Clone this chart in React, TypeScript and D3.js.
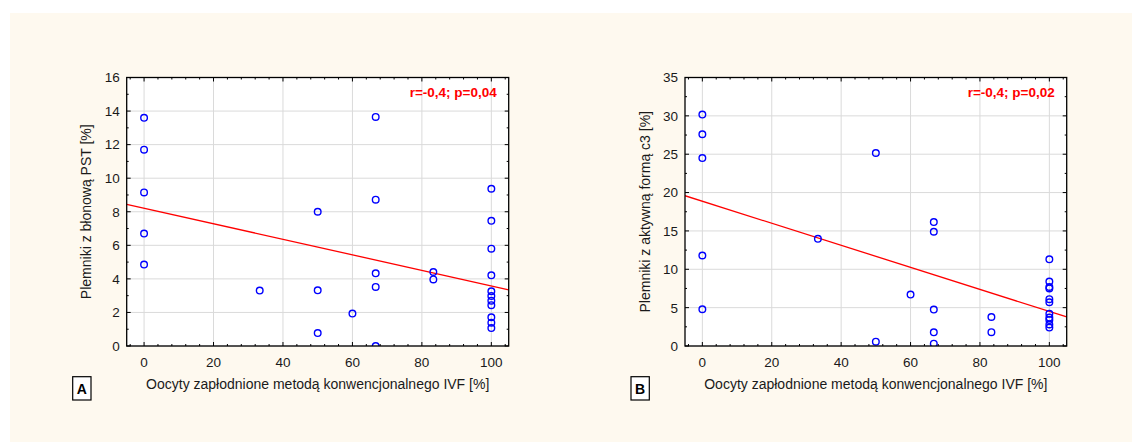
import React from "react";
import * as d3 from "d3";

// ---------- Data ----------
const xLabel = "Oocyty zapłodnione metodą konwencjonalnego IVF [%]";
const xTicks = [0, 20, 40, 60, 80, 100];

// Panel A
const aTitleY = "Plemniki z błonową PST [%]";
const aStat = "r=-0,4; p=0,04";
const aX = [0, 0, 0, 0, 0, 33.3, 50, 50, 50, 60, 66.7, 66.7, 66.7, 66.7, 66.7, 83.3, 83.3,
  100, 100, 100, 100, 100, 100, 100, 100, 100, 100, 100];
const aY = [13.6, 11.7, 9.15, 6.7, 4.85, 3.3, 8.0, 3.32, 0.77, 1.93, 13.65, 8.72, 4.33, 3.52, 0.0, 4.41, 3.97,
  9.37, 7.46, 5.8, 4.21, 3.26, 2.98, 2.7, 2.43, 1.71, 1.39, 1.07];
const aYTicks = [0, 2, 4, 6, 8, 10, 12, 14, 16];
const aFit = [8.21, -0.0463]; // intercept, slope

// Panel B
const bTitleY = "Plemniki z aktywną formą c3 [%]";
const bStat = "r=-0,4; p=0,02";
const bX = [0, 0, 0, 0, 0, 33.3, 50, 50, 60, 66.7, 66.7, 66.7, 66.7, 66.7, 83.3, 83.3,
  100, 100, 100, 100, 100, 100, 100, 100, 100, 100, 100];
const bY = [30.17, 27.6, 24.5, 11.8, 4.79, 13.97, 25.16, 0.57, 6.7, 16.15, 14.89, 4.75, 1.78, 0.3, 3.78, 1.8,
  11.3, 8.4, 7.7, 7.5, 6.1, 5.7, 4.2, 3.7, 3.4, 2.8, 2.4];
const bYTicks = [0, 5, 10, 15, 20, 25, 30, 35];
const bFit = [18.87, -0.1436];

const FONT = "'Liberation Sans', Arial, sans-serif";

type PanelProps = {
  left: number; right: number; top: number; bottom: number;
  xs: number[]; ys: number[]; yTicks: number[]; yMinorStep: number;
  fit: number[]; yTitle: string; stat: string; letter: string;
};

function Panel(p: PanelProps) {
  const x = d3.scaleLinear().domain([-5, 105]).range([p.left, p.right]);
  const yMax = p.yTicks[p.yTicks.length - 1];
  const y = d3.scaleLinear().domain([0, yMax]).range([p.bottom, p.top]);
  const xMinor = d3.range(-4, 105, 4).filter((v) => v % 20 !== 0);
  const yMinor = d3.range(0, yMax + 0.001, p.yMinorStep).filter((v) => !p.yTicks.includes(v));
  const clipId = "clip" + p.letter;
  const line = d3.line<number>().x((v) => x(v)).y((v) => y(p.fit[0] + p.fit[1] * v));
  const cx = (p.left + p.right) / 2;
  const cy = (p.top + p.bottom) / 2;
  return (
    <g fontFamily={FONT}>
      <defs>
        <clipPath id={clipId}>
          <rect x={p.left} y={p.top} width={p.right - p.left} height={p.bottom - p.top} />
        </clipPath>
      </defs>
      <rect x={p.left} y={p.top} width={p.right - p.left} height={p.bottom - p.top} fill="#ffffff" />
      {xTicks.map((t) => (
        <line key={"gx" + t} x1={x(t)} x2={x(t)} y1={p.top} y2={p.bottom} stroke="#dadada" strokeWidth={1} />
      ))}
      {p.yTicks.map((t) => (
        <line key={"gy" + t} x1={p.left} x2={p.right} y1={y(t)} y2={y(t)} stroke="#dadada" strokeWidth={1} />
      ))}
      <g clipPath={`url(#${clipId})`}>
        <path d={line([-5, 105]) || ""} stroke="#ff0000" strokeWidth={1.3} fill="none" />
        {p.xs.map((v, i) => (
          <circle key={i} cx={x(v)} cy={y(p.ys[i])} r={3.3} fill="none" stroke="#0000ff" strokeWidth={1.4} />
        ))}
      </g>
      {/* ticks */}
      {xTicks.map((t) => (
        <g key={"tx" + t}>
          <line x1={x(t)} x2={x(t)} y1={p.bottom} y2={p.bottom - 4} stroke="#000" />
          <line x1={x(t)} x2={x(t)} y1={p.top} y2={p.top + 4} stroke="#000" />
        </g>
      ))}
      {xMinor.map((t) => (
        <g key={"mx" + t}>
          <line x1={x(t)} x2={x(t)} y1={p.bottom} y2={p.bottom - 2} stroke="#000" />
          <line x1={x(t)} x2={x(t)} y1={p.top} y2={p.top + 2} stroke="#000" />
        </g>
      ))}
      {p.yTicks.map((t) => (
        <g key={"ty" + t}>
          <line x1={p.left} x2={p.left + 4} y1={y(t)} y2={y(t)} stroke="#000" />
          <line x1={p.right} x2={p.right - 4} y1={y(t)} y2={y(t)} stroke="#000" />
        </g>
      ))}
      {yMinor.map((t) => (
        <g key={"my" + t}>
          <line x1={p.left} x2={p.left + 2} y1={y(t)} y2={y(t)} stroke="#000" />
          <line x1={p.right} x2={p.right - 2} y1={y(t)} y2={y(t)} stroke="#000" />
        </g>
      ))}
      <rect x={p.left} y={p.top} width={p.right - p.left} height={p.bottom - p.top} fill="none" stroke="#000" strokeWidth={1.3} />
      {/* tick labels */}
      {xTicks.map((t) => (
        <text key={"lx" + t} x={x(t)} y={p.bottom + 20.5} fontSize={13.5} textAnchor="middle" fill="#1a1a1a">{t}</text>
      ))}
      {p.yTicks.map((t) => (
        <text key={"ly" + t} x={p.left - 7} y={y(t)} dy="0.36em" fontSize={13.5} textAnchor="end" fill="#1a1a1a">{t}</text>
      ))}
      <text x={cx} y={p.bottom + 43} fontSize={14} textAnchor="middle" fill="#1a1a1a">{xLabel}</text>
      <text transform={`translate(${p.left - 35.5},${cy}) rotate(-90)`} fontSize={14} textAnchor="middle" fill="#1a1a1a">{p.yTitle}</text>
      <text x={p.right - 12} y={p.top + 19} fontSize={13.5} fontWeight="bold" textAnchor="end" fill="#ff0000">{p.stat}</text>
      <rect x={p.left - 54} y={p.bottom + 30.7} width={18.3} height={23.3} fill="#ffffff" stroke="#000" strokeWidth={1.2} />
      <text x={p.left - 54 + 9.15} y={p.bottom + 30.7 + 16.8} fontSize={14} fontWeight="bold" textAnchor="middle" fill="#000">{p.letter}</text>
    </g>
  );
}

export default function App() {
  return (
    <svg width={1132} height={442} style={{ position: "fixed", left: 0, top: 0, display: "block" }}>
      <rect x={0} y={0} width={1132} height={442} fill="#ffffff" />
      <rect x={10} y={13} width={1122} height={429} fill="#fef9ef" />
      <Panel left={126.7} right={508.7} top={77.5} bottom={346} xs={aX} ys={aY} yTicks={aYTicks} yMinorStep={1}
        fit={aFit} yTitle={aTitleY} stat={aStat} letter="A" />
      <Panel left={685} right={1066.7} top={77.5} bottom={346} xs={bX} ys={bY} yTicks={bYTicks} yMinorStep={2.5}
        fit={bFit} yTitle={bTitleY} stat={bStat} letter="B" />
    </svg>
  );
}
